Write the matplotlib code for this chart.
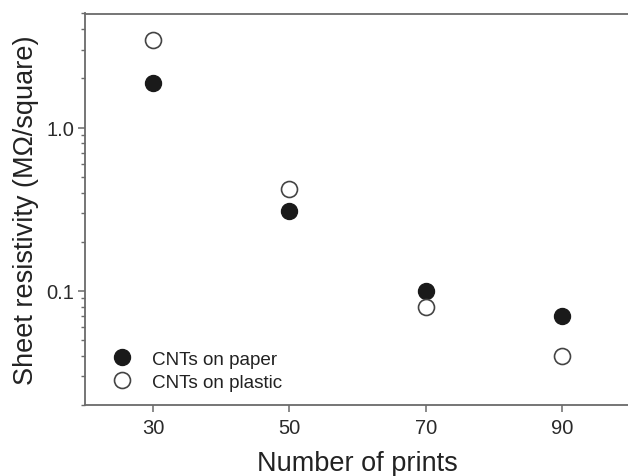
import matplotlib
matplotlib.use("Agg")
import matplotlib.pyplot as plt
from matplotlib.ticker import LogLocator, FixedLocator, NullFormatter, FixedFormatter

plt.rcParams['font.family'] = ['Liberation Sans', 'DejaVu Sans']

prints = [30, 50, 70, 90]
paper = [1.88, 0.31, 0.10, 0.07]
plastic = [3.45, 0.42, 0.08, 0.04]
xticks = [30, 50, 70, 90]
yticks = [0.1, 1.0]
ytick_labels = ["0.1", "1.0"]

fig = plt.figure(figsize=(6.28, 4.77), dpi=100)
ax = fig.add_axes([85/628, 71/477, 545/628, 391.5/477])

ax.plot(prints, paper, 'o', color='#1a1a1a', markersize=11.5, markeredgecolor='#1a1a1a',
        label='CNTs on paper', clip_on=False)
ax.plot(prints, plastic, 'o', markerfacecolor='white', markeredgecolor='#444444',
        markeredgewidth=1.2, markersize=11.5, label='CNTs on plastic', clip_on=False)

ax.set_yscale('log')
ax.set_xlim(20, 100)
ax.set_ylim(0.02, 5)
ax.xaxis.set_major_locator(FixedLocator(xticks))
ax.yaxis.set_major_locator(FixedLocator(yticks))
ax.yaxis.set_major_formatter(FixedFormatter(ytick_labels))
ax.yaxis.set_minor_locator(LogLocator(base=10, subs=[2, 3, 4, 5, 6, 7, 8, 9]))
ax.yaxis.set_minor_formatter(NullFormatter())

spine_c = '#6a6a6a'
for s in ax.spines.values():
    s.set_color(spine_c)
    s.set_linewidth(1.3)
ax.tick_params(axis='x', which='major', direction='out', length=5, width=1.1,
               color=spine_c, labelsize=14.5, labelcolor='#2a2a2a', pad=4.5)
ax.tick_params(axis='y', which='major', direction='out', length=5, width=1.1,
               color=spine_c, labelsize=14.5, labelcolor='#2a2a2a', pad=2.5)
ax.tick_params(axis='y', which='minor', direction='out', length=3, width=1.0, color=spine_c)

ax.set_xlabel('Number of prints', fontsize=19.5, color='#222222', labelpad=9)
ax.set_ylabel('Sheet resistivity (MΩ/square)', fontsize=19.5, color='#222222', labelpad=5.5)

leg = ax.legend(loc='lower left', bbox_to_anchor=(0.037, 0.017), frameon=False, fontsize=13.6,
                handlelength=1.0, handletextpad=1.1, labelspacing=0.3, borderaxespad=0.0)
for t in leg.get_texts():
    t.set_color('#222222')

fig.savefig('out.png', dpi=100)
